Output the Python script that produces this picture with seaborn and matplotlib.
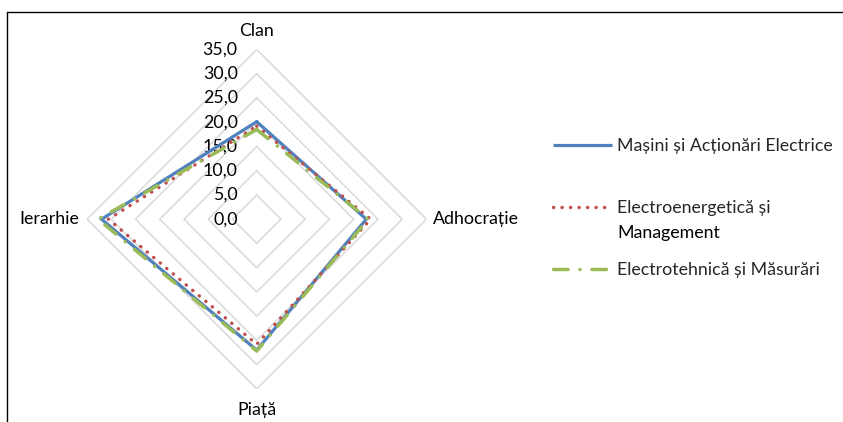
import numpy as np
import pandas as pd
import matplotlib
matplotlib.use("Agg")
import matplotlib.pyplot as plt
import seaborn as sns
from matplotlib.lines import Line2D

# ---- data ----
categories = ["Clan", "Adhocrație", "Piață", "Ierarhie"]
series_names = ["Mașini și Acționări Electrice",
                "Electroenergetică și Management",
                "Electrotehnică și Măsurări"]
masini = [20.1, 22.6, 27.0, 32.0]
electroenergetica = [19.2, 23.5, 25.8, 30.6]
electrotehnica = [18.5, 23.0, 27.2, 32.7]
ring_values = [5, 10, 15, 20, 25, 30, 35]
tick_labels = ["0,0", "5,0", "10,0", "15,0", "20,0", "25,0", "30,0", "35,0"]

sns.set_theme(style="white")
plt.rcParams["font.family"] = ["Lato", "DejaVu Sans"]
FS = 12.8
FSPX = FS / 0.72

W, H = 843, 422
fig = plt.figure(figsize=(W / 100, H / 100), dpi=100)

cx, cy, R = 256.7, 219.2, 169.7  # pixel centre (from top) and outer radius
ax = fig.add_axes([(cx - R) / W, (H - cy - R) / H, 2 * R / W, 2 * R / H],
                  projection="polar")
ax.set_theta_zero_location("N")
ax.set_theta_direction(-1)
ax.set_ylim(0, 35)
ax.grid(False)
ax.spines["polar"].set_visible(False)
ax.set_xticks([])
ax.set_yticks([])
ax.patch.set_alpha(0)

n = len(categories)
theta = np.arange(n) * 2 * np.pi / n
theta_c = np.append(theta, 2 * np.pi)

# polygon grid rings
for r in ring_values:
    ax.plot(theta_c, [r] * (n + 1), color="#d9d9d9", lw=1.1, zorder=1)

# radial value labels
for i, lab in enumerate(tick_labels):
    ax.annotate(lab, xy=(0, i * 5), xytext=(-19, 0), textcoords="offset pixels",
                ha="right", va="center", fontsize=FS, color="#000000",
                annotation_clip=False)

# category labels
offsets = [(0, 19, "center", "center"), (7, 0, "left", "center"),
           (0, -21, "center", "center"), (-8, 0, "right", "center")]
for t, lab, (dx, dy, ha, va) in zip(theta, categories, offsets):
    ax.annotate(lab, xy=(t, 35), xytext=(dx, dy), textcoords="offset pixels",
                ha=ha, va=va, fontsize=FS, color="#000000", annotation_clip=False)

rows = []
for name, vals in zip(series_names, [masini, electroenergetica, electrotehnica]):
    for t, v in zip(theta_c, vals + [vals[0]]):
        rows.append({"series": name, "theta": t, "r": v})
df = pd.DataFrame(rows)

styles = {
    series_names[0]: dict(color="#4F81BD", linestyle="-", lw=2.3),
    series_names[1]: dict(color="#C0504D", linestyle=(0, (0.05, 2.4)), lw=2.5),
    series_names[2]: dict(color="#9BBB59", linestyle=(0, (4.2, 3.4, 0.05, 3.4)), lw=2.5),
}
for name in series_names:
    st = styles[name]
    sub = df[df["series"] == name]
    sns.lineplot(data=sub, x="theta", y="r", sort=False, estimator=None, ax=ax,
                 color=st["color"], linestyle=st["linestyle"], linewidth=st["lw"],
                 legend=False, zorder=3)
    ln = ax.lines[-1]
    ln.set_dash_capstyle("round")
    ln.set_solid_capstyle("round")
    ln.set_solid_joinstyle("miter")

ax.set_xlabel("")
ax.set_ylabel("")
ax.set_ylim(0, 35)

# legend
handles = []
for name in series_names:
    st = styles[name]
    h = Line2D([], [], color=st["color"], linestyle=st["linestyle"], lw=st["lw"],
               dash_capstyle="round", solid_capstyle="butt")
    handles.append(h)
leg_labels = [series_names[0], "Electroenergetică și", series_names[2]]
leg = fig.legend(handles, leg_labels, loc="upper left",
                 bbox_to_anchor=(553 / W, 1 - 138.5 / H), frameon=False,
                 fontsize=FS, handlelength=59 / FSPX, handletextpad=5 / FSPX,
                 labelspacing=2.57, borderpad=0, borderaxespad=0)
fig.text(617 / W, 1 - 232.5 / H, "Management", ha="left", va="center",
         fontsize=FS, color="#000000")

# chart border (top and left)
fig.add_artist(Line2D([7 / W, 7 / W], [0, 1 - 12 / H], color="#000000", lw=1.0,
                      transform=fig.transFigure))
fig.add_artist(Line2D([7 / W, 1], [1 - 12 / H, 1 - 12 / H], color="#000000", lw=1.0,
                      transform=fig.transFigure))

fig.savefig("out.png", dpi=100)
